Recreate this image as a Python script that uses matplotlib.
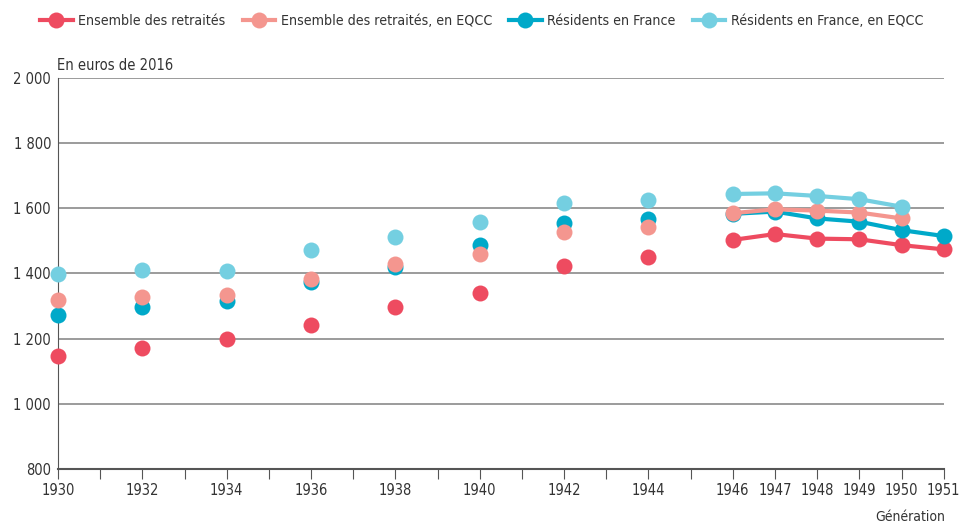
import matplotlib.pyplot as plt

plt.rcParams['font.family'] = ['DejaVu Sans']
plt.rcParams['font.stretch'] = 'condensed'

years_early = [1930, 1932, 1934, 1936, 1938, 1940, 1942, 1944]
years_late = [1946, 1947, 1948, 1949, 1950, 1951]

ensemble_early = [1147, 1171, 1198, 1243, 1296, 1341, 1424, 1450]
ensemble_late = [1503, 1521, 1507, 1505, 1487, 1474]
ensemble_eqcc_early = [1319, 1327, 1334, 1382, 1430, 1459, 1527, 1544]
ensemble_eqcc_late = [1585, 1597, 1593, 1587, 1569]
residents_early = [1273, 1297, 1317, 1375, 1419, 1486, 1555, 1568]
residents_late = [1583, 1590, 1569, 1559, 1533, 1515]
residents_eqcc_early = [1398, 1411, 1409, 1473, 1512, 1558, 1615, 1626]
residents_eqcc_late = [1644, 1646, 1638, 1628, 1605]

labels = ['Ensemble des retraités', 'Ensemble des retraités, en EQCC',
          'Résidents en France', 'Résidents en France, en EQCC']
colors = ['#EE4B60', '#F4968F', '#00A9C9', '#74CFE1']

series = [
    (ensemble_early, ensemble_late),
    (ensemble_eqcc_early, ensemble_eqcc_late),
    (residents_early, residents_late),
    (residents_eqcc_early, residents_eqcc_late),
]

fig = plt.figure(figsize=(9.6, 5.29), dpi=100)
ax = fig.add_axes([0.0604, 0.1134, 0.9226, 0.7392])

# ordre de dessin : rouge, bleu, saumon, bleu clair
order = [0, 2, 1, 3]
handles = {}
for k, i in enumerate(order):
    early, late = series[i]
    c = colors[i]
    ax.plot(years_early, early, linestyle='none', marker='o', markersize=11.5,
            color=c, markeredgewidth=0, zorder=3 + k, clip_on=False)
    h, = ax.plot(years_late[:len(late)], late, linestyle='-', linewidth=3,
                 marker='o', markersize=11.5, color=c, markeredgewidth=0,
                 zorder=3 + k, clip_on=False)
    handles[i] = h

ax.set_xlim(1930, 1951)
ax.set_ylim(800, 2000)
ax.set_yticks(range(800, 2001, 200))
ax.set_yticklabels([f'{v:,}'.replace(',', ' ') for v in range(800, 2001, 200)])
ax.set_xticks(range(1930, 1952))
xlabels = []
for y in range(1930, 1952):
    if y >= 1946 or y % 2 == 0:
        xlabels.append(str(y))
    else:
        xlabels.append('')
ax.set_xticklabels(xlabels)
ax.grid(axis='y', color='#8a8a8a', linewidth=1.2)
ax.set_axisbelow(True)
for s in ['top', 'right']:
    ax.spines[s].set_visible(False)
ax.spines['left'].set_color('#555555')
ax.spines['bottom'].set_color('#555555')
ax.spines['bottom'].set_linewidth(1.5)
ax.tick_params(axis='x', direction='out', length=7, color='#555555',
               labelsize=10.5, labelcolor='#333333', pad=3)
ax.tick_params(axis='y', length=0, labelsize=10.5, labelcolor='#333333', pad=5)

fig.text(0.059, 0.868, 'En euros de 2016', fontsize=10.5, color='#333333')
fig.text(0.984, 0.015, 'Génération', fontsize=10, color='#333333', ha='right')

fig.legend([handles[i] for i in range(4)], labels, loc='upper left',
           bbox_to_anchor=(40 / 960, 1 - 14 / 529), ncol=4, frameon=False,
           fontsize=10.2, handlelength=2.3, columnspacing=1.2,
           handletextpad=0.4, borderpad=0, borderaxespad=0,
           labelcolor='#333333')

fig.savefig('out.png', dpi=100)
